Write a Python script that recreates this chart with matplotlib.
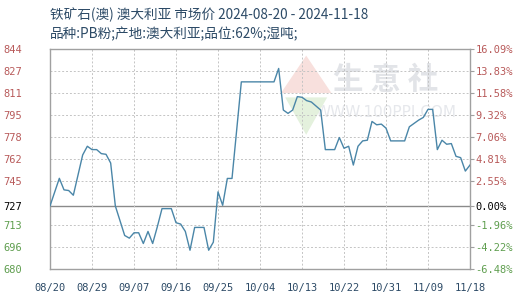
import matplotlib
matplotlib.use("Agg")
import matplotlib.pyplot as plt
import pandas as pd

plt.rcParams['font.family'] = ['Noto Sans CJK SC', 'DejaVu Sans']

title1 = "铁矿石(澳) 澳大利亚 市场价 2024-08-20 - 2024-11-18"
title2 = "品种:PB粉;产地:澳大利亚;品位:62%;湿吨;"

dates = ["2024-08-20", "2024-08-22", "2024-08-23", "2024-08-24", "2024-08-25",
         "2024-08-27", "2024-08-28", "2024-08-29", "2024-08-30", "2024-08-31",
         "2024-09-01", "2024-09-02", "2024-09-03", "2024-09-05", "2024-09-06",
         "2024-09-07", "2024-09-08", "2024-09-09", "2024-09-10", "2024-09-11",
         "2024-09-12", "2024-09-13", "2024-09-15", "2024-09-16", "2024-09-17",
         "2024-09-18", "2024-09-19", "2024-09-20", "2024-09-22", "2024-09-23",
         "2024-09-24", "2024-09-25", "2024-09-26", "2024-09-27", "2024-09-28",
         "2024-09-30", "2024-10-07", "2024-10-08", "2024-10-09", "2024-10-10",
         "2024-10-11", "2024-10-12", "2024-10-13", "2024-10-14", "2024-10-15",
         "2024-10-17", "2024-10-18", "2024-10-20", "2024-10-21", "2024-10-22",
         "2024-10-23", "2024-10-24", "2024-10-25", "2024-10-26", "2024-10-27",
         "2024-10-28", "2024-10-29", "2024-10-30", "2024-10-31", "2024-11-01",
         "2024-11-04", "2024-11-05", "2024-11-07", "2024-11-08", "2024-11-09",
         "2024-11-10", "2024-11-11", "2024-11-12", "2024-11-13", "2024-11-14",
         "2024-11-15", "2024-11-16", "2024-11-17", "2024-11-18"]
prices = [727, 747.6, 739, 738.5, 735,
          765, 771.5, 769, 769, 766,
          765.5, 759, 727, 705, 703,
          707, 707, 699, 708, 699,
          711.5, 725, 725, 714.5, 713.5,
          708, 694, 711, 711, 694,
          700, 737.5, 727.5, 747.5, 747.5,
          819.5, 819.5, 829.5, 798.5, 796,
          798.5, 808.5, 808, 805.5, 804.5,
          798.5, 769, 769, 778, 770,
          771.5, 757.5, 771.5, 775.5, 776,
          790, 787.5, 788, 785, 775.5,
          775.5, 786, 791, 793, 799,
          799, 769, 776, 773, 773.5,
          764, 763, 753, 757.5]

base_price = 727
y_ticks = [680, 696.4, 712.8, 727, 745.6, 762, 778.4, 794.8, 811.2, 827.6, 844]
y_labels = ["680", "696", "713", "727", "745", "762", "778", "795", "811", "827", "844"]
pct_labels = ["-6.48%", "-4.22%", "-1.96%", "0.00%", "2.55%", "4.81%", "7.06%",
              "9.32%", "11.58%", "13.83%", "16.09%"]
x_ticks = ["2024-08-20", "2024-08-29", "2024-09-07", "2024-09-16", "2024-09-25",
           "2024-10-04", "2024-10-13", "2024-10-22", "2024-10-31", "2024-11-09",
           "2024-11-18"]

red = "#b85a5a"
green = "#5f9e4f"
line_col = "#4a86a8"
grid_col = "#c4c4c4"
frame_col = "#a0a0a0"
title_col = "#2c4a66"

x = pd.to_datetime(dates)
xt = pd.to_datetime(x_ticks)

fig = plt.figure(figsize=(5.2, 3.0), dpi=100)
ax = fig.add_axes([50/520, 1-269/300, 420/520, 220/300])

ax.set_xlim(xt[0], xt[-1])
ax.set_ylim(680, 844)

# grid
for v in y_ticks:
    if v == base_price:
        ax.axhline(v, color="#8a8a8a", lw=1.0, zorder=1)
    else:
        ax.axhline(v, color=grid_col, lw=0.7, ls=(0, (2, 2)), zorder=1)
for t in xt[1:-1]:
    ax.axvline(t, color=grid_col, lw=0.7, ls=(0, (2, 2)), zorder=1)

# watermark
ax.text(0.80, 0.86, "生 意 社", transform=ax.transAxes, fontsize=22, color="#e2e4e8",
        ha="center", va="center", fontweight="bold", zorder=0)
ax.text(0.80, 0.71, "WWW.100PPI.COM", transform=ax.transAxes, fontsize=11, color="#e6e8ec",
        ha="center", va="center", family="DejaVu Sans", zorder=0)
ax.fill([0.55, 0.61, 0.67], [0.80, 0.97, 0.80], transform=ax.transAxes,
        color="#f8e0dd", zorder=0, lw=0)
ax.fill([0.56, 0.61, 0.66], [0.78, 0.61, 0.78], transform=ax.transAxes,
        color="#e4f1dd", zorder=0, lw=0)

ax.plot(x, prices, color=line_col, lw=1.0, zorder=3)

for s in ax.spines.values():
    s.set_color(frame_col)
    s.set_linewidth(1.0)

ax.set_yticks(y_ticks)
ax.set_yticklabels(y_labels, family="DejaVu Sans Mono", fontsize=7.5)
ax.tick_params(axis="y", length=0, pad=20)
for lab, v in zip(ax.get_yticklabels(), y_ticks):
    lab.set_color(red if v > base_price else ("black" if v == base_price else green))

ax.set_xticks(xt)
ax.set_xticklabels([d.strftime("%m/%d") for d in xt], family="DejaVu Sans Mono",
                   fontsize=7.5, color=title_col)
ax.tick_params(axis="x", length=0, pad=10)

ax2 = ax.twinx()
ax2.set_ylim(680, 844)
ax2.set_yticks(y_ticks)
ax2.set_yticklabels(pct_labels, family="DejaVu Sans Mono", fontsize=7.5)
ax2.tick_params(axis="y", length=3, width=0.8, color=frame_col, pad=1)
for lab, v in zip(ax2.get_yticklabels(), y_ticks):
    lab.set_color(red if v > base_price else ("black" if v == base_price else green))
for s in ax2.spines.values():
    s.set_visible(False)

fig.text(50/520, 1-15/300, title1, fontsize=9.8, color=title_col, va="center", ha="left")
fig.text(50/520, 1-34/300, title2, fontsize=9.8, color=title_col, va="center", ha="left")

fig.savefig("out.png", dpi=100)
